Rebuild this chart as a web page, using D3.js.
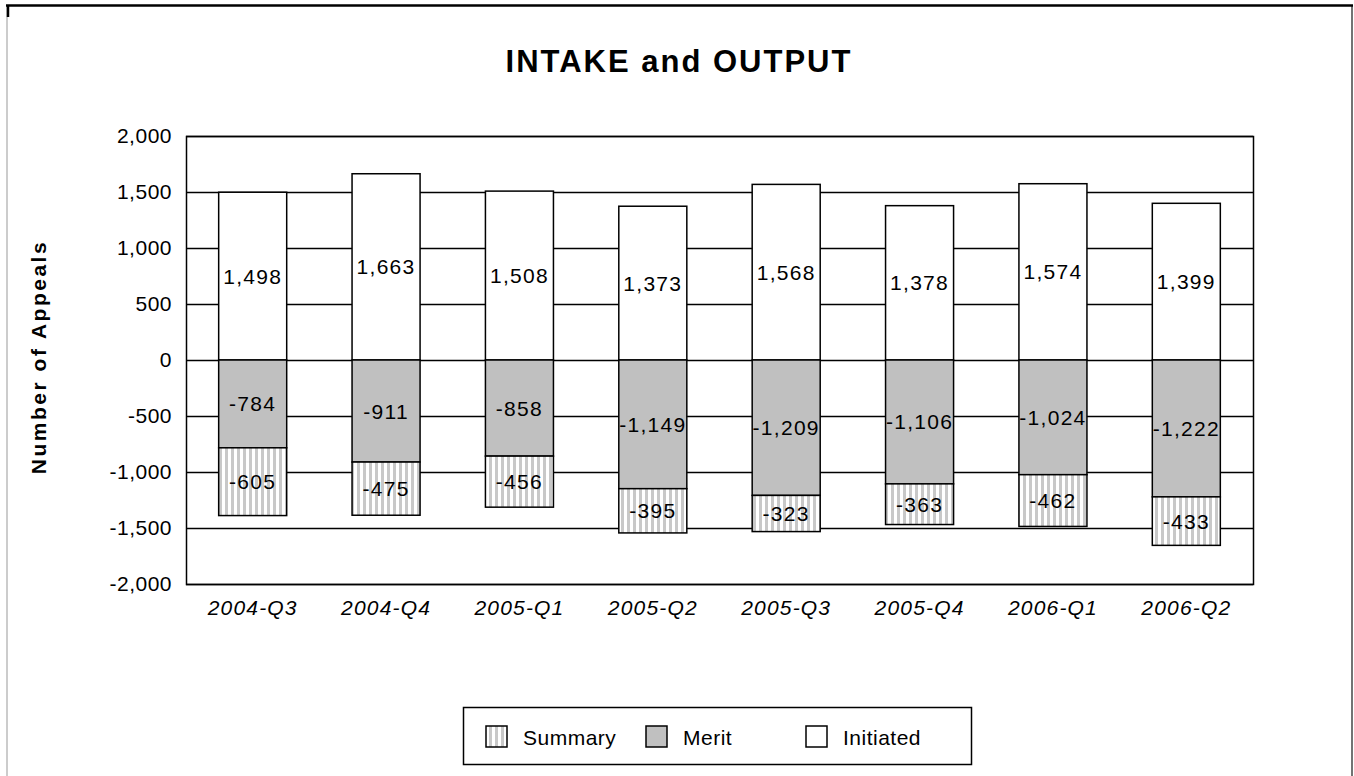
<!DOCTYPE html>
<html><head><meta charset="utf-8">
<script src="https://cdn.jsdelivr.net/npm/d3@7"></script>
<style>
body{margin:0;background:#fff;}
svg{display:block;}
text{font-family:"Liberation Sans",Arial,sans-serif;fill:#000;}
</style></head>
<body>
<svg id="chart" width="1354" height="776"></svg>
<script>
const categories = ["2004-Q3","2004-Q4","2005-Q1","2005-Q2","2005-Q3","2005-Q4","2006-Q1","2006-Q2"];
const initiated = [1498,1663,1508,1373,1568,1378,1574,1399];
const merit = [-784,-911,-858,-1149,-1209,-1106,-1024,-1222];
const summary = [-605,-475,-456,-395,-323,-363,-462,-433];
const yTicks = [-2000,-1500,-1000,-500,0,500,1000,1500,2000];
const seriesNames = ["Summary","Merit","Initiated"];

const svg = d3.select("#chart");
const W = 1354, H = 776;
const plot = {left:186, right:1253, top:136, bottom:584};
const fmt = d => d3.format(",")(d).replace("\u2212","-");

// pattern
const defs = svg.append("defs");
const pat = defs.append("pattern").attr("id","stripes").attr("patternUnits","userSpaceOnUse")
  .attr("width",6).attr("height",6);
pat.append("rect").attr("width",6).attr("height",6).attr("fill","#fff");
pat.append("rect").attr("x",3).attr("width",3).attr("height",6).attr("fill","#c8c8c8");

svg.append("rect").attr("width",W).attr("height",H).attr("fill","#fff");

// outer frame
svg.append("line").attr("x1",7).attr("x2",7).attr("y1",5).attr("y2",H).attr("stroke","#999").attr("stroke-width",1);
svg.append("line").attr("x1",1352).attr("x2",1352).attr("y1",5).attr("y2",H).attr("stroke","#444").attr("stroke-width",1.5);
svg.append("line").attr("x1",6).attr("x2",1353).attr("y1",5.5).attr("y2",5.5).attr("stroke","#000").attr("stroke-width",2.5);
svg.append("line").attr("x1",8).attr("x2",8).attr("y1",5).attr("y2",17).attr("stroke","#000").attr("stroke-width",2.5);

const x = d3.scaleBand().domain(categories).range([plot.left,plot.right]).paddingInner(0.49).paddingOuter(0.245);
const y = d3.scaleLinear().domain([-2000,2000]).range([plot.bottom,plot.top]);

// gridlines
svg.append("g").selectAll("line").data(yTicks).join("line")
  .attr("x1",plot.left).attr("x2",plot.right)
  .attr("y1",d=>Math.round(y(d))+0.5).attr("y2",d=>Math.round(y(d))+0.5)
  .attr("stroke","#000").attr("stroke-width",1.3);

// plot border
svg.append("rect").attr("x",plot.left+0.5).attr("y",Math.round(plot.top)+0.5)
  .attr("width",plot.right-plot.left).attr("height",plot.bottom-plot.top)
  .attr("fill","none").attr("stroke","#000").attr("stroke-width",1.5);

// y axis labels
const yAxis = d3.axisLeft(y).tickValues(yTicks).tickSize(0).tickPadding(14).tickFormat(fmt);
const gy = svg.append("g").attr("transform",`translate(${plot.left},0)`).call(yAxis);
gy.select(".domain").remove();
gy.selectAll("text").style("font-size","21px").style("font-family","Liberation Sans, Arial, sans-serif").attr("fill","#000").style("letter-spacing","0.5px");

// x axis labels
const xAxis = d3.axisBottom(x).tickSize(0).tickPadding(16);
const gx = svg.append("g").attr("transform",`translate(0,${plot.bottom})`).call(xAxis);
gx.select(".domain").remove();
gx.selectAll("text").style("font-size","21px").style("font-style","italic").style("font-family","Liberation Sans, Arial, sans-serif").attr("fill","#000").style("letter-spacing","1.2px");

// bars
const rows = categories.map((c,i)=>({c, ini:initiated[i], mer:merit[i], sum:summary[i]}));
const bw = x.bandwidth();
const g = svg.append("g");
rows.forEach(r=>{
  const x0 = x(r.c);
  g.append("rect").attr("x",x0).attr("y",y(r.ini)).attr("width",bw).attr("height",y(0)-y(r.ini))
    .attr("fill","#fff").attr("stroke","#000").attr("stroke-width",1.5);
  g.append("rect").attr("x",x0).attr("y",y(0)).attr("width",bw).attr("height",y(r.mer)-y(0))
    .attr("fill","#c0c0c0").attr("stroke","#000").attr("stroke-width",1.5);
  g.append("rect").attr("x",x0).attr("y",y(r.mer)).attr("width",bw).attr("height",y(r.mer+r.sum)-y(r.mer))
    .attr("fill","url(#stripes)").attr("stroke","#000").attr("stroke-width",1.5);
});
const lbl = svg.append("g").style("font-size","21px").style("letter-spacing","1.3px");
rows.forEach(r=>{
  const cx = x(r.c)+bw/2;
  [[r.ini, y(r.ini/2)],[r.mer, y(r.mer/2)],[r.sum, y(r.mer+r.sum/2)]].forEach(([v,cy])=>{
    lbl.append("text").attr("x",cx).attr("y",cy).attr("text-anchor","middle").attr("dy","0.36em").text(fmt(v));
  });
});

// title
svg.append("text").attr("x",679).attr("y",72).attr("text-anchor","middle")
  .style("font-size","31px").style("font-weight","bold").style("letter-spacing","2px").text("INTAKE and OUTPUT");

// y title
svg.append("text").attr("transform","translate(46,357) rotate(-90)").attr("text-anchor","middle")
  .style("font-size","21px").style("font-weight","bold").style("letter-spacing","2.5px").text("Number of Appeals");

// legend
const leg = svg.append("g");
leg.append("rect").attr("x",463.5).attr("y",707.5).attr("width",508).attr("height",57)
  .attr("fill","#fff").attr("stroke","#000").attr("stroke-width",1.5);
const legX = [486,646,806];
const fills = ["url(#stripes)","#c0c0c0","#fff"];
seriesNames.forEach((n,i)=>{
  leg.append("rect").attr("x",legX[i]).attr("y",726).attr("width",21).attr("height",21)
    .attr("fill",fills[i]).attr("stroke","#000").attr("stroke-width",1.5);
  leg.append("text").attr("x",legX[i]+37).attr("y",737).attr("dy","0.36em")
    .style("font-size","21px").style("letter-spacing","0.5px").text(n);
});
</script>
</body></html>
